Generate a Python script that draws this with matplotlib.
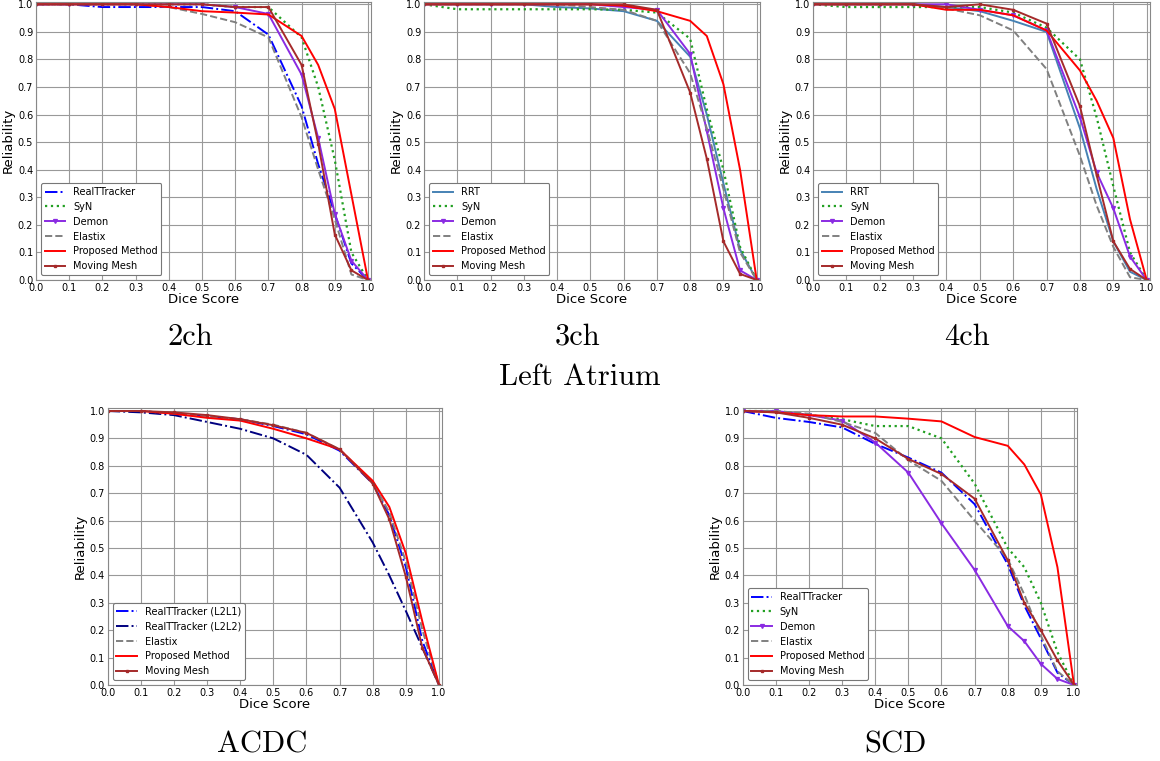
import numpy as np
import matplotlib
matplotlib.use("Agg")
import matplotlib.pyplot as plt

# dice thresholds
dice = [0.0, 0.1, 0.2, 0.3, 0.4, 0.5, 0.6, 0.7, 0.8, 0.85, 0.9, 0.95, 1.0]

# --- Left Atrium 2ch
la2_rtt = [1, 1, 0.99, 0.99, 0.99, 0.99, 0.975, 0.89, 0.63, 0.42, 0.24, 0.06, 0]
la2_syn = [1, 1, 1, 1, 1, 1, 0.99, 0.99, 0.88, 0.70, 0.435, 0.10, 0]
la2_demon = [1, 1, 1, 1, 1, 1, 0.99, 0.965, 0.745, 0.515, 0.24, 0.07, 0]
la2_elastix = [1, 1, 1, 1, 0.99, 0.965, 0.935, 0.88, 0.59, 0.40, 0.22, 0.02, 0]
la2_prop = [1, 1, 1, 1, 0.99, 0.975, 0.97, 0.963, 0.885, 0.78, 0.62, 0.31, 0]
la2_mesh = [1, 1, 1, 1, 1, 1, 0.99, 0.99, 0.78, 0.495, 0.165, 0.035, 0]

# --- Left Atrium 3ch
la3_rrt = [1, 1, 1, 1, 0.99, 0.985, 0.975, 0.94, 0.81, 0.60, 0.35, 0.11, 0]
la3_syn = [1, 0.982, 0.982, 0.982, 0.982, 0.982, 0.98, 0.97, 0.875, 0.62, 0.40, 0.12, 0]
la3_demon = [1, 1, 1, 1, 1, 1, 0.99, 0.98, 0.82, 0.54, 0.26, 0.035, 0]
la3_elastix = [1, 1, 1, 1, 1, 0.99, 0.98, 0.94, 0.75, 0.55, 0.33, 0.10, 0]
la3_prop = [1, 1, 1, 1, 1, 1, 0.995, 0.975, 0.94, 0.885, 0.71, 0.40, 0]
la3_mesh = [1, 1, 1, 1, 1, 1, 1, 0.98, 0.68, 0.44, 0.14, 0.022, 0]

# --- Left Atrium 4ch
la4_rrt = [1, 1, 1, 1, 0.99, 0.975, 0.94, 0.90, 0.55, 0.33, 0.14, 0.03, 0]
la4_syn = [1, 0.99, 0.99, 0.99, 0.99, 0.99, 0.97, 0.915, 0.80, 0.59, 0.34, 0.10, 0]
la4_demon = [1, 1, 1, 1, 1, 0.98, 0.96, 0.905, 0.59, 0.39, 0.26, 0.085, 0]
la4_elastix = [1, 1, 1, 1, 0.985, 0.96, 0.905, 0.765, 0.45, 0.27, 0.12, 0.01, 0]
la4_prop = [1, 1, 1, 1, 0.98, 0.98, 0.96, 0.905, 0.76, 0.65, 0.515, 0.22, 0]
la4_mesh = [1, 1, 1, 1, 0.99, 1.0, 0.98, 0.93, 0.63, 0.38, 0.14, 0.04, 0]

# --- ACDC
acdc_l2l1 = [1, 1, 0.99, 0.98, 0.97, 0.945, 0.915, 0.855, 0.735, 0.62, 0.43, 0.16, 0]
acdc_l2l2 = [1, 0.995, 0.985, 0.96, 0.935, 0.90, 0.84, 0.72, 0.52, 0.40, 0.27, 0.135, 0]
acdc_elastix = [1, 1, 0.99, 0.98, 0.97, 0.95, 0.92, 0.86, 0.74, 0.63, 0.45, 0.20, 0]
acdc_prop = [1, 1, 0.99, 0.975, 0.965, 0.935, 0.90, 0.86, 0.745, 0.65, 0.48, 0.23, 0]
acdc_mesh = [1, 1, 0.995, 0.985, 0.97, 0.948, 0.92, 0.86, 0.735, 0.605, 0.395, 0.135, 0]

# --- SCD
scd_rtt = [1, 0.975, 0.96, 0.94, 0.88, 0.83, 0.775, 0.66, 0.44, 0.29, 0.17, 0.045, 0]
scd_syn = [1, 1, 0.985, 0.97, 0.945, 0.945, 0.90, 0.735, 0.50, 0.43, 0.30, 0.12, 0]
scd_demon = [1, 1, 0.985, 0.965, 0.885, 0.775, 0.59, 0.42, 0.215, 0.16, 0.077, 0.022, 0]
scd_elastix = [1, 1, 0.99, 0.96, 0.92, 0.82, 0.745, 0.60, 0.46, 0.33, 0.18, 0.05, 0]
scd_prop = [1, 0.995, 0.985, 0.98, 0.98, 0.972, 0.962, 0.905, 0.873, 0.805, 0.695, 0.43, 0]
scd_mesh = [1, 0.995, 0.975, 0.95, 0.90, 0.825, 0.77, 0.68, 0.455, 0.30, 0.20, 0.09, 0]

ticks = np.round(np.arange(0, 1.01, 0.1), 1)

styles = {
    "rtt": dict(color="blue", ls="-.", lw=1.4),
    "rtt2": dict(color="navy", ls="-.", lw=1.4),
    "rrt": dict(color="steelblue", ls="-", lw=1.4),
    "syn": dict(color="#22a022", ls=":", lw=1.6),
    "demon": dict(color="blueviolet", ls="-", lw=1.4, marker="v", ms=2.8),
    "elastix": dict(color="grey", ls="--", lw=1.4),
    "prop": dict(color="red", ls="-", lw=1.4),
    "mesh": dict(color="brown", ls="-", lw=1.4, marker="s", ms=2),
}

W, H = 1160, 761
fig = plt.figure(figsize=(W / 100, H / 100), dpi=100)


def make_ax(x0, x1, y0, y1):
    # x0/x1: pixel of data 0 and 1 ; y0/y1: pixel (from top) of data 0 and 1
    sx = x1 - x0
    sy = y0 - y1
    ax = fig.add_axes([x0 / W, (H - y0) / H, sx * 1.01 / W, sy * 1.01 / H])
    ax.set_xlim(0, 1.01)
    ax.set_ylim(0, 1.01)
    ax.set_xticks(ticks)
    ax.set_yticks(ticks)
    ax.set_xticklabels([f"{t:.1f}" for t in ticks])
    ax.set_yticklabels([f"{t:.1f}" for t in ticks])
    ax.tick_params(length=0, labelsize=7, pad=2)
    ax.grid(True, color="#999999", lw=0.8)
    for s in ax.spines.values():
        s.set_color("#888888")
    ax.set_xlabel("Dice Score", fontsize=9.5, labelpad=0)
    ax.set_ylabel("Reliability", fontsize=9.5, labelpad=2)
    return ax


def draw(ax, series):
    for key, label, vals in series:
        ax.plot(dice, vals, label=label, **styles[key])
    leg = ax.legend(loc="lower left", fontsize=7, fancybox=True, framealpha=1,
                    edgecolor="#777777", borderaxespad=0.5, handlelength=2.1)
    leg.get_frame().set_linewidth(0.8)


ax1 = make_ax(36, 368, 280, 4.3)
draw(ax1, [("rtt", "RealTTracker", la2_rtt), ("syn", "SyN", la2_syn),
           ("demon", "Demon", la2_demon), ("elastix", "Elastix", la2_elastix),
           ("prop", "Proposed Method", la2_prop), ("mesh", "Moving Mesh", la2_mesh)])

ax2 = make_ax(424, 756.7, 280, 4.3)
draw(ax2, [("rrt", "RRT", la3_rrt), ("syn", "SyN", la3_syn),
           ("demon", "Demon", la3_demon), ("elastix", "Elastix", la3_elastix),
           ("prop", "Proposed Method", la3_prop), ("mesh", "Moving Mesh", la3_mesh)])

ax3 = make_ax(813, 1146.7, 280, 4.3)
draw(ax3, [("rrt", "RRT", la4_rrt), ("syn", "SyN", la4_syn),
           ("demon", "Demon", la4_demon), ("elastix", "Elastix", la4_elastix),
           ("prop", "Proposed Method", la4_prop), ("mesh", "Moving Mesh", la4_mesh)])

ax4 = make_ax(107.7, 439, 685, 411)
draw(ax4, [("rtt", "RealTTracker (L2L1)", acdc_l2l1), ("rtt2", "RealTTracker (L2L2)", acdc_l2l2),
           ("elastix", "Elastix", acdc_elastix), ("prop", "Proposed Method", acdc_prop),
           ("mesh", "Moving Mesh", acdc_mesh)])

ax5 = make_ax(742.7, 1074, 685, 411)
draw(ax5, [("rtt", "RealTTracker", scd_rtt), ("syn", "SyN", scd_syn),
           ("demon", "Demon", scd_demon), ("elastix", "Elastix", scd_elastix),
           ("prop", "Proposed Method", scd_prop), ("mesh", "Moving Mesh", scd_mesh)])

# captions
cap = dict(fontsize=22, family="cmr10", ha="center", va="center")
fig.text(190 / W, 1 - 337 / H, "2ch", **cap)
fig.text(578 / W, 1 - 337 / H, "3ch", **cap)
fig.text(967 / W, 1 - 337 / H, "4ch", **cap)
fig.text(580 / W, 1 - 377 / H, "Left Atrium", **cap)
fig.text(262 / W, 1 - 745 / H, "ACDC", **cap)
fig.text(895 / W, 1 - 745 / H, "SCD", **cap)

fig.savefig("out.png", dpi=100)
